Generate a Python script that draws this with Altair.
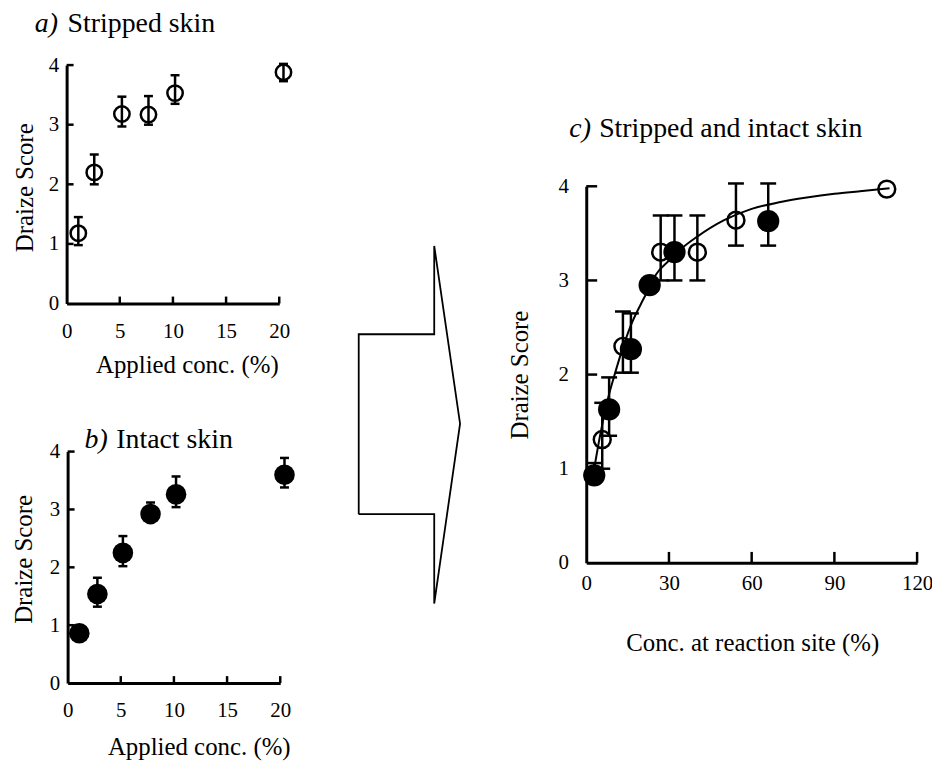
import altair as alt
import pandas as pd

FONT = "Liberation Serif"

# ---------------- data ----------------
# a) Stripped skin (open circles)
a_conc = [1.1, 2.6, 5.2, 7.7, 10.2, 20.4]
a_score = [1.18, 2.2, 3.18, 3.17, 3.53, 3.88]
a_hi = [1.45, 2.5, 3.47, 3.48, 3.83, 4.02]
a_lo = [0.98, 2.0, 2.97, 3.0, 3.35, 3.73]

# b) Intact skin (filled circles)
b_conc = [1.1, 2.8, 5.2, 7.8, 10.2, 20.4]
b_score = [0.86, 1.54, 2.25, 2.92, 3.26, 3.6]
b_hi = [0.92, 1.82, 2.54, 3.12, 3.57, 3.89]
b_lo = [0.8, 1.32, 2.02, 2.85, 3.04, 3.38]

# c) Stripped (open) and intact (filled) skin vs conc. at reaction site
c_open_conc = [5.8, 13.3, 27, 40.3, 54.3, 109]
c_open_score = [1.31, 2.3, 3.3, 3.3, 3.64, 3.97]
c_open_hi = [1.7, 2.67, 3.69, 3.69, 4.03, 3.97]
c_open_lo = [1.0, 2.02, 3.0, 3.0, 3.37, 3.97]

c_fill_conc = [2.9, 8.3, 16.2, 23, 32, 66]
c_fill_score = [0.93, 1.63, 2.27, 2.95, 3.3, 3.63]
c_fill_hi = [1.06, 1.97, 2.65, 2.95, 3.69, 4.03]
c_fill_lo = [0.93, 1.35, 2.02, 2.95, 3.0, 3.37]

# fitted curve in panel c
curve_conc = [3, 5, 8, 10, 13, 16, 20, 23, 25, 30, 35, 40, 50, 60, 70, 80, 90, 100, 110]
curve_score = [1.02, 1.35, 1.76, 1.97, 2.26, 2.51, 2.76, 2.93, 3.05, 3.21, 3.35, 3.46,
               3.64, 3.76, 3.83, 3.88, 3.92, 3.95, 3.98]

# axis tick values / labels
score_labels = [0, 1, 2, 3, 4]
score_marks = [1, 2, 3, 4]
applied_labels = [0, 5, 10, 15, 20]
applied_marks = [5, 10, 15, 20]
site_labels = [0, 30, 60, 90, 120]
site_marks = [30, 60, 90, 120]

# text
title_a = ["a)", "Stripped skin"]
title_b = ["b)", "Intact skin"]
title_c = ["c)", "Stripped and intact skin"]
y_title = "Draize Score"
x_title_ab = "Applied conc. (%)"
x_title_c = "Conc. at reaction site (%)"

# arrow outline (shape units: shaft then head)
arrow_x = [0.0, 0.0, 0.745, 0.745, 1.0, 0.745, 0.745, 0.0]
arrow_y = [0.25, 0.753, 0.753, 1.0, 0.503, 0.0, 0.25, 0.25]

# ---------------- layout (page pixels) ----------------
W, H = 930, 756          # one drawing view covering the page
M = 8                    # page margin
A_BOX = (67, 63, 281, 303)      # left, top, right, bottom of plot areas
B_BOX = (68, 452, 282, 685)
C_BOX = (590, 185, 923, 564)
ARROW_BOX = (361, 245, 463, 605)


def vx(p):
    return p - M


def vy(p):
    return p - M


def make_scales(box, xdom, ydom):
    l, t, r, b = box
    xs = alt.Scale(domain=xdom, range=[vx(l), vx(r)], nice=False, zero=False)
    ys = alt.Scale(domain=ydom, range=[vy(b), vy(t)], nice=False, zero=False)
    return xs, ys


def x_axis(box, title, center_x, base_dy, values, pad):
    l, t, r, b = box
    return alt.Axis(
        orient="bottom", offset=vy(b) - H, title=title,
        titleX=vx(center_x), titleY=base_dy, titleAlign="center",
        titleBaseline="alphabetic", titleFont=FONT, titleFontSize=25,
        titleFontWeight="normal", titleColor="black",
        values=values, labelFont=FONT, labelFontSize=21, labelColor="black",
        labelPadding=pad, labelFlush=False, labelOverlap=False,
        ticks=False, tickSize=0, domainColor="black", domainWidth=3, grid=False)


def y_axis(box, title, base_dx, center_y, values, pad):
    l, t, r, b = box
    return alt.Axis(
        orient="left", offset=-vx(l), title=title, titleAngle=270,
        titleX=base_dx, titleY=vy(center_y), titleAlign="center",
        titleBaseline="alphabetic", titleFont=FONT, titleFontSize=25,
        titleFontWeight="normal", titleColor="black",
        values=values, labelFont=FONT, labelFontSize=21, labelColor="black",
        labelPadding=pad, labelFlush=False, labelOverlap=False,
        ticks=False, tickSize=0, domainColor="black", domainWidth=3, grid=False)


def enc(xs, ys):
    def X(f, axis=None):
        return alt.X(f"{f}:Q", scale=xs, axis=axis)

    def Y(f, axis=None):
        return alt.Y(f"{f}:Q", scale=ys, axis=axis)
    return X, Y


def pts_df(xs, ys, lo, hi):
    return pd.DataFrame({"x": xs, "y": ys, "lo": lo, "hi": hi})


def err_layers(df, X, Y, cap, lw):
    e = df[df["hi"] > df["lo"]]
    base = alt.Chart(e)
    rule = base.mark_rule(color="black", strokeWidth=lw).encode(
        x=X("x"), y=Y("lo"), y2="hi:Q")
    top = base.mark_tick(orient="horizontal", size=cap, thickness=lw,
                         color="black", opacity=1).encode(x=X("x"), y=Y("hi"))
    bot = base.mark_tick(orient="horizontal", size=cap, thickness=lw,
                         color="black", opacity=1).encode(x=X("x"), y=Y("lo"))
    return [rule, top, bot]


def inner_ticks(box, X, Y, xmarks, ymarks, length, lw):
    l, t, r, b = box
    ty = alt.Chart(pd.DataFrame({"v": ymarks})).mark_tick(
        orient="horizontal", size=length, thickness=lw, color="black", opacity=1
    ).encode(y=Y("v"), x=alt.value(vx(l) + length / 2))
    tx = alt.Chart(pd.DataFrame({"v": xmarks})).mark_tick(
        orient="vertical", size=length, thickness=lw, color="black", opacity=1
    ).encode(x=X("v"), y=alt.value(vy(b) - length / 2))
    return [ty, tx]


def title_layers(words, letter_x, text_x, baseline_y):
    l = alt.Chart(pd.DataFrame({"t": [words[0]]})).mark_text(
        font=FONT, fontSize=28, fontStyle="italic", align="left",
        baseline="alphabetic", color="black"
    ).encode(text="t:N", x=alt.value(vx(letter_x)), y=alt.value(vy(baseline_y)))
    t = alt.Chart(pd.DataFrame({"t": [words[1]]})).mark_text(
        font=FONT, fontSize=28, align="left", baseline="alphabetic", color="black"
    ).encode(text="t:N", x=alt.value(vx(text_x)), y=alt.value(vy(baseline_y)))
    return [l, t]


def side_panel(box, xs_, ys_, lo, hi, filled, size, words, tpos, xt, yt):
    xs, ys = make_scales(box, [0, 20], [0, 4])
    X, Y = enc(xs, ys)
    xa = x_axis(box, x_title_ab, xt[0], xt[1], applied_labels, 17)
    ya = y_axis(box, y_title, yt[0], yt[1], score_labels, 8)
    df = pts_df(xs_, ys_, lo, hi)
    pts = alt.Chart(df).mark_point(
        shape="circle", filled=filled, size=size, color="black",
        strokeWidth=2.5, opacity=1
    ).encode(x=X("x", xa), y=Y("y", ya))
    return (err_layers(df, X, Y, 9, 2.5) + [pts]
            + inner_ticks(box, X, Y, applied_marks, score_marks, 7, 2.5)
            + title_layers(words, *tpos))


layers = []
layers += side_panel(A_BOX, a_conc, a_score, a_lo, a_hi, False, 240, title_a,
                     (35, 68, 30), (188, 69), (-34, 186))
layers += side_panel(B_BOX, b_conc, b_score, b_lo, b_hi, True, 430, title_b,
                     (85, 117, 448), (200, 72), (-36, 560))

# panel c
cxs, cys = make_scales(C_BOX, [0, 120], [0, 4])
CX, CY = enc(cxs, cys)
c_xa = x_axis(C_BOX, x_title_c, 757, 88, site_labels, 10)
c_ya = y_axis(C_BOX, y_title, -59, (C_BOX[1] + C_BOX[3]) / 2, score_labels, 18)
df_open = pts_df(c_open_conc, c_open_score, c_open_lo, c_open_hi)
df_fill = pts_df(c_fill_conc, c_fill_score, c_fill_lo, c_fill_hi)
curve = alt.Chart(pd.DataFrame({"x": curve_conc, "y": curve_score})).mark_line(
    color="black", strokeWidth=2, interpolate="monotone"
).encode(x=CX("x"), y=CY("y"))
open_pts = alt.Chart(df_open).mark_point(
    shape="circle", filled=False, size=290, color="black", strokeWidth=2.5, opacity=1
).encode(x=CX("x", c_xa), y=CY("y", c_ya))
fill_pts = alt.Chart(df_fill).mark_point(
    shape="circle", filled=True, size=500, color="black", opacity=1
).encode(x=CX("x"), y=CY("y"))
layers += (err_layers(df_open, CX, CY, 16, 2.5) + err_layers(df_fill, CX, CY, 16, 2.5)
           + [curve, open_pts, fill_pts]
           + inner_ticks(C_BOX, CX, CY, site_marks, score_marks, 11, 2.5)
           + title_layers(title_c, 573, 603, 135))

# arrow
axs, ays = make_scales(ARROW_BOX, [0, 1], [0, 1])
arrow = alt.Chart(pd.DataFrame({"ax": arrow_x, "ay": arrow_y,
                                "i": list(range(len(arrow_x)))})).mark_line(
    color="black", strokeWidth=1.8, strokeJoin="miter"
).encode(
    x=alt.X("ax:Q", scale=axs, axis=None),
    y=alt.Y("ay:Q", scale=ays, axis=None),
    order=alt.Order("i:Q"),
)
layers.append(arrow)

chart = alt.layer(*layers).resolve_scale(
    x="independent", y="independent"
).properties(
    width=W, height=H,
    autosize=alt.AutoSizeParams(type="none"),
    padding=0,
    background="white",
).configure(font=FONT).configure_view(
    stroke="white", strokeWidth=0, strokeOpacity=0
)

chart.save("out.html", embed_options={"renderer": "svg", "actions": False})
